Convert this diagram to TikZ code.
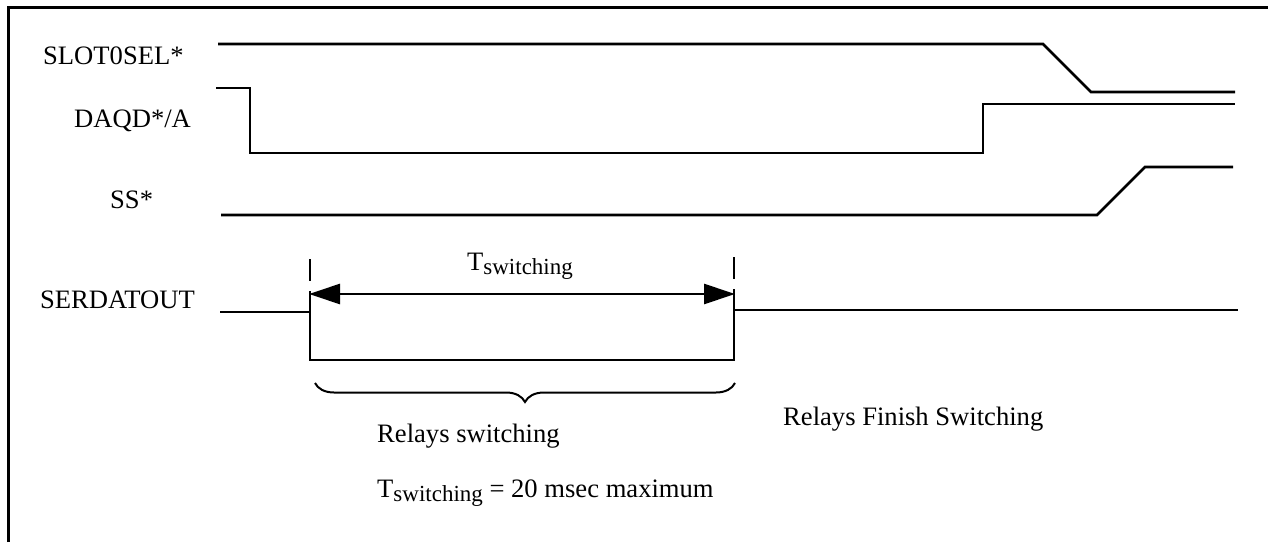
\documentclass[tikz,border=0pt]{standalone}
\usepackage{fontspec}
\setmainfont{Liberation Serif}
\usetikzlibrary{arrows.meta,decorations.pathreplacing}
\tikzset{
  sig/.style={line width=2.6pt, line join=miter},
  frame/.style={line width=3pt},
  lbl/.style={anchor=base west, inner sep=0pt, font=\fontsize{26.6}{30}\selectfont},
  tick/.style={line width=2.6pt, dash pattern=on 22pt off 10pt},
  dim/.style={line width=2.6pt, {Triangle[length=31pt,width=20pt]}-{Triangle[length=31pt,width=20pt]}, shorten <=-1pt, shorten >=-1pt},
  brc/.style={line width=2pt, decorate, decoration={brace, amplitude=19pt, mirror}}
}
\newcommand{\Tsw}{T{\fontsize{23}{26}\selectfont\raisebox{-4pt}{switching}}}
\begin{document}
\begin{tikzpicture}[x=1pt,y=1pt]
\useasboundingbox (0,0) rectangle (1268,542);
% frame
\coordinate (fb) at (8,0);
\coordinate (ft) at (8,534);
\coordinate (fr) at (1270,534);
\draw[frame] (fb) -- (ft) -- (fr);
% labels
\node[lbl] (slot) at (43,477) {SLOT0SEL*};
\node[lbl] (daqd) at (74,414) {DAQD*/A};
\node[lbl] (ss) at (110,334) {SS*};
\node[lbl] (ser) at (40,234) {SERDATOUT};
% SLOT0SEL*
\coordinate (s0) at (218,498);
\coordinate (s1) at (1043,498);
\coordinate (s2) at (1091,450);
\coordinate (s3) at (1235,450);
\draw[sig] (s0) -- (s1) -- (s2) -- (s3);
% DAQD*/A
\coordinate (d0) at (216,454);
\coordinate (d1) at (250,454);
\coordinate (d2) at (250,389);
\coordinate (d3) at (983,389);
\coordinate (d4) at (983,438);
\coordinate (d5) at (1235,438);
\draw[sig] (d0) -- (d1) -- (d2) -- (d3) -- (d4) -- (d5);
% SS*
\coordinate (ss0) at (221,327);
\coordinate (ss1) at (1097,327);
\coordinate (ss2) at (1145,375);
\coordinate (ss3) at (1233,375);
\draw[sig] (ss0) -- (ss1) -- (ss2) -- (ss3);
% SERDATOUT
\coordinate (r0) at (220,230);
\coordinate (r1) at (310,230);
\coordinate (r2) at (310,182);
\coordinate (r3) at (734,182);
\coordinate (r4) at (734,232);
\coordinate (r5) at (1238,232);
\draw[sig] (r0) -- (r1) -- (r2) -- (r3) -- (r4) -- (r5);
% ticks
\coordinate (t1a) at (310,283);
\coordinate (t2a) at (734,285);
\draw[tick] (t1a) -- (r1);
\draw[tick] (t2a) -- (r4);
% dimension arrow
\coordinate (a1) at (310,248);
\coordinate (a2) at (734,248);
\draw[dim] (a1) -- (a2);
\node[lbl, anchor=base] (tsw) at (520,272) {\Tsw};
% brace
\coordinate (b1) at (315,159);
\coordinate (b2) at (735,159);
\draw[brc] (b1) -- (b2);
% annotations
\node[lbl] (rs) at (377,100) {Relays switching};
\node[lbl] (tmax) at (377,45) {\Tsw{} = 20 msec maximum};
\node[lbl] (rfs) at (783,117) {Relays Finish Switching};
\end{tikzpicture}
\end{document}
